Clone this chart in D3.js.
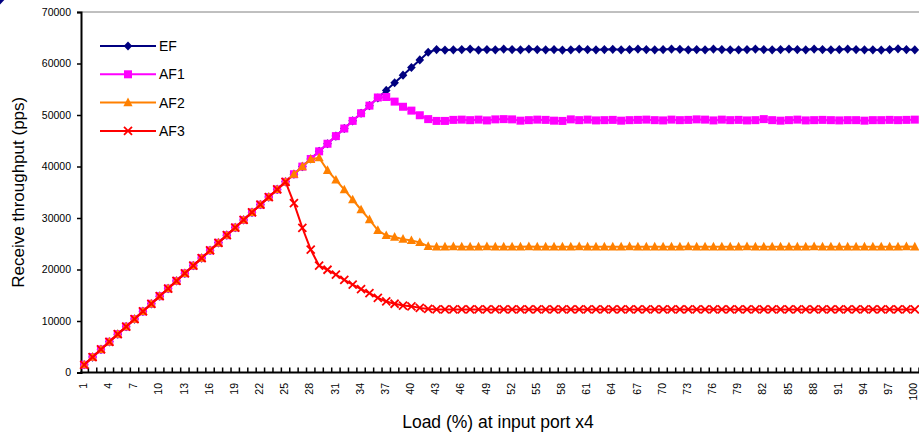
<!DOCTYPE html>
<html>
<head>
<meta charset="utf-8">
<script src="https://cdn.jsdelivr.net/npm/d3@7"></script>
<style>
  body { margin: 0; background: #fff; }
  text { font-family: "Liberation Sans", Arial, sans-serif; fill: #000; }
  .line { fill: none; stroke-width: 2; }
</style>
</head>
<body>
<div class="graph"></div>
<script>

// load (%) categories 1..100
const loads = d3.range(1, 101);
const tickLabels = [1,4,7,10,13,16,19,22,25,28,31,34,37,40,43,46,49,52,55,58,61,64,67,70,73,76,79,82,85,88,91,94,97,100];

// common ramp, load 1..42 (all classes get what they send)
const ramp = [1500,3000,4480,5960,7440,8900,10380,11860,13340,14820,
              16300,17780,19260,20740,22220,23700,25180,26660,28140,29620,
              31100,32580,34060,35540,37020,38500,39980,41460,42940,44420,
              45900,47380,48860,50340,51820,53300,54780,56260,57740,59220,
              60700,62180];

const efTail = [62700,62600,62650,62700,62800,62600,62700,62650,62800,62700,
                62650,62800,62700,62650,62700,62600,62650,62800,62700,62650,
                62700,62750,62650,62700,62800,62700,62650,62700,62800,62750,
                62650,62700,62650,62800,62700,62650,62650,62700,62800,62700,
                62650,62700,62800,62700,62650,62800,62700,62650,62700,62800,
                62700,62650,62650,62600,62700,62850,62700,62650,62800];

const af1Tail = [53400,53500,52600,51600,50850,49950,49200,48850,48850,49050,
                 49100,49000,49100,48950,49150,49200,49150,48900,49000,49100,
                 49050,48900,48850,49150,49000,49100,48950,49000,49050,48900,
                 49000,49050,49100,49000,48950,49100,49000,49050,49150,49100,
                 48950,49100,49000,49050,48950,49000,49200,49000,48900,49000,
                 49100,48950,49000,49050,49000,48950,49000,49000,48900,49000,
                 49000,49050,49000,49050,49100];

const af2Tail = [41400,41700,39250,37400,35500,33550,31600,29700,27600,26600,
                 26300,25900,25650,25250,24500,24400,24400,24450,24400,24400,
                 24400,24450,24400,24400,24400,24400,24450,24400,24400,24400,
                 24400,24400,24450,24400,24400,24400,24400,24400,24450,24400,
                 24400,24400,24400,24400,24400,24450,24400,24400,24400,24400,
                 24400,24400,24450,24400,24400,24400,24400,24400,24400,24400,
                 24450,24400,24400,24400,24400,24400,24400,24400,24400,24400,
                 24400,24450,24400];

const af3Tail = [32900,28100,23850,20750,19950,19000,18000,17050,16200,15400,
                 14500,13800,13350,13000,12850,12550,12350,12250,12250,12250,
                 12250,12250,12250,12250,12250,12250,12250,12250,12250,12250,
                 12250,12250,12250,12250,12250,12250,12250,12250,12250,12250,
                 12250,12250,12250,12250,12250,12250,12250,12250,12250,12250,
                 12250,12250,12250,12250,12250,12250,12250,12250,12250,12250,
                 12250,12250,12250,12250,12250,12250,12250,12250,12250,12250,
                 12250,12250,12250,12250,12250];

const seriesNames = ["EF", "AF1", "AF2", "AF3"];
const seriesColors = ["#000080", "#ff00ff", "#ff8000", "#ff0000"];
const seriesMarkers = ["diamond", "square", "triangle", "cross"];
const seriesValues = [
  ramp.concat(efTail),
  ramp.slice(0, 35).concat(af1Tail),
  ramp.slice(0, 27).concat(af2Tail),
  ramp.slice(0, 25).concat(af3Tail)
];

const yTicks = [0,10000,20000,30000,40000,50000,60000,70000];


const W = 919, H = 436;
const plot = {left: 80, right: 919, top: 12, bottom: 372.5};

const svg = d3.select(".graph").append("svg")
  .attr("width", W)
  .attr("height", H);

const x = d3.scaleBand().domain(loads).range([plot.left, plot.right]).padding(0);
const y = d3.scaleLinear().domain([0, 70000]).range([plot.bottom, plot.top]);

const cx = (i)=>{ return x(loads[i]) + x.bandwidth()/2; };

// top border
svg.append("line")
  .attr("x1", plot.left + 1).attr("x2", plot.right)
  .attr("y1", plot.top).attr("y2", plot.top)
  .attr("stroke", "#808080").attr("stroke-width", 1);

// y axis
const yAxis = d3.axisLeft(y).tickValues(yTicks).tickSize(4).tickFormat(d3.format("d"));
const gy = svg.append("g")
  .attr("transform", "translate(" + (plot.left + 1) + ",0)")
  .call(yAxis);
gy.select(".domain").attr("stroke", "#000").attr("stroke-width", 2);
gy.selectAll(".tick line").attr("stroke", "#000").attr("stroke-width", 1.5);
gy.selectAll(".tick text")
  .attr("x", -10)
  .style("font-size", "10.5px")
  .style("font-family", "'Liberation Sans', Arial, sans-serif");

// x axis: ticks at category boundaries, inside
const gx = svg.append("g").attr("class", "x axis");
gx.append("line")
  .attr("x1", plot.left).attr("x2", plot.right)
  .attr("y1", plot.bottom).attr("y2", plot.bottom)
  .attr("stroke", "#000").attr("stroke-width", 2);
gx.selectAll("line.tk")
  .data(loads)
  .enter().append("line")
    .attr("class", "tk")
    .attr("x1", (d)=>{ return x(d) + x.bandwidth(); })
    .attr("x2", (d)=>{ return x(d) + x.bandwidth(); })
    .attr("y1", plot.bottom)
    .attr("y2", plot.bottom - 5)
    .attr("stroke", "#000").attr("stroke-width", 1.5);
gx.selectAll("text")
  .data(tickLabels)
  .enter().append("text")
    .attr("transform", (d)=>{ return "translate(" + (x(d) + x.bandwidth()/2 - 1) + ",383) rotate(-90)"; })
    .attr("text-anchor", "end")
    .attr("dy", "0.35em")
    .style("font-size", "10.5px")
    .text((d)=>{ return d; });

// axis titles
svg.append("text")
  .attr("x", 498).attr("y", 428)
  .attr("text-anchor", "middle")
  .style("font-size", "17.5px")
  .text("Load (%) at input port x4");

svg.append("text")
  .attr("transform", "translate(18," + ((plot.top + plot.bottom)/2) + ") rotate(-90)")
  .attr("text-anchor", "middle")
  .attr("dy", "0.35em")
  .style("font-size", "17px")
  .text("Receive throughput (pps)");

// markers
function drawMarker(g, type, color){
  if (type === "diamond"){
    g.append("path").attr("d", "M0,-4.6L4.3,0L0,4.6L-4.3,0Z").attr("fill", color);
  } else if (type === "square"){
    g.append("rect").attr("x", -4).attr("y", -4).attr("width", 8).attr("height", 8).attr("fill", color);
  } else if (type === "triangle"){
    g.append("path").attr("d", "M0,-5L4.6,3.6L-4.6,3.6Z").attr("fill", color);
  } else {
    g.append("path").attr("d", "M-4,-4L4,4M-4,4L4,-4")
      .attr("stroke", color).attr("stroke-width", 1.8).attr("fill", "none");
  }
}

const line = d3.line()
  .x((d, i)=>{ return cx(i); })
  .y((d)=>{ return y(d); });

seriesValues.forEach((vals, s)=>{
  const g = svg.append("g").attr("class", "series");
  g.append("path")
    .attr("class", "line")
    .attr("d", line(vals))
    .attr("stroke", seriesColors[s]);
  vals.forEach((v, i)=>{
    const m = g.append("g").attr("transform", "translate(" + cx(i) + "," + y(v) + ")");
    drawMarker(m, seriesMarkers[s], seriesColors[s]);
  });
});

// legend
const legend = svg.append("g").attr("transform", "translate(100,46)");
seriesNames.forEach((name, s)=>{
  const row = legend.append("g").attr("transform", "translate(0," + (s * 28.3) + ")");
  row.append("line")
    .attr("x1", 0).attr("x2", 56)
    .attr("stroke", seriesColors[s]).attr("stroke-width", 2);
  const m = row.append("g").attr("transform", "translate(28,0)");
  drawMarker(m, seriesMarkers[s], seriesColors[s]);
  row.append("text")
    .attr("x", 59)
    .attr("dy", "0.35em")
    .style("font-size", "14px")
    .text(name);
});

</script>
</body>
</html>
